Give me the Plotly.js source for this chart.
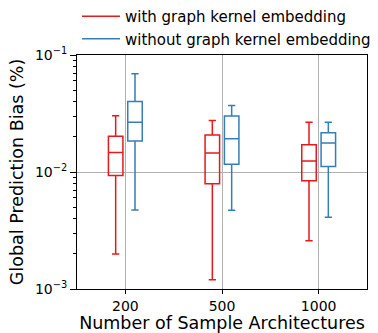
<!DOCTYPE html>
<html><head><meta charset="utf-8">
<script src="https://cdn.plot.ly/plotly-3.0.1.min.js"></script>
<style>html,body{margin:0;padding:0;background:#fff}</style>
</head><body>
<div id="chart" style="width:378px;height:333px"></div>
<script>
const categories = ['200', '500', '1000'];
const seriesNames = ['with graph kernel embedding', 'without graph kernel embedding'];
// with graph kernel embedding
const withLower = [0.00199, 0.00120, 0.00259];
const withQ1 = [0.00935, 0.00795, 0.00843];
const withMedian = [0.0147, 0.0145, 0.0124];
const withQ3 = [0.0202, 0.0207, 0.0171];
const withUpper = [0.0303, 0.0275, 0.0266];
// without graph kernel embedding
const withoutLower = [0.00474, 0.00471, 0.00411];
const withoutQ1 = [0.01845, 0.01167, 0.01117];
const withoutMedian = [0.0266, 0.0192, 0.0177];
const withoutQ3 = [0.0401, 0.0301, 0.0216];
const withoutUpper = [0.0693, 0.0371, 0.0266];
const yTickVals = [0.001, 0.01, 0.1];
const yTickText = ['10<sup>−3</sup>', '10<sup>−2</sup>', '10<sup>−1</sup>'];

const RED = '#e41a1c', BLUE = '#377eb8';
const FONT = 'DejaVu Sans, sans-serif';
const minorVals = [];
[0.001, 0.01].forEach(d => { for (let k = 2; k <= 9; k++) minorVals.push(d * k); });

function boxTrace(name, color, lo, q1, med, q3, hi) {
  return {
    type: 'box', name: name, x: categories,
    lowerfence: lo, q1: q1, median: med, q3: q3, upperfence: hi,
    line: {color: color, width: 1.5}, fillcolor: 'rgba(0,0,0,0)',
    whiskerwidth: 0.5, showlegend: false, hoverinfo: 'skip'
  };
}
function legendTrace(name, color) {
  return {type: 'scatter', mode: 'lines', name: name, x: [null], y: [null],
    line: {color: color, width: 1.5}, showlegend: true};
}

const data = [
  boxTrace(seriesNames[0], RED, withLower, withQ1, withMedian, withQ3, withUpper),
  boxTrace(seriesNames[1], BLUE, withoutLower, withoutQ1, withoutMedian, withoutQ3, withoutUpper),
  legendTrace(seriesNames[0], RED),
  legendTrace(seriesNames[1], BLUE)
];

const layout = {
  width: 378, height: 333,
  margin: {l: 77, r: 11, t: 54, b: 44},
  paper_bgcolor: '#fff', plot_bgcolor: '#fff',
  font: {family: FONT, color: '#000', size: 12},
  boxmode: 'group', boxgap: 0.6, boxgroupgap: 0.25,
  xaxis: {
    type: 'category', range: [-0.5, 2.5],
    showline: true, linecolor: '#000', linewidth: 1, mirror: true,
    ticks: 'outside', ticklen: 4, tickcolor: '#000',
    showgrid: true, gridcolor: '#b0b0b0', gridwidth: 1,
    tickfont: {size: 14},
    title: {text: 'Number of Sample Architectures', font: {size: 17.5}, standoff: 2},
    zeroline: false
  },
  yaxis: {
    type: 'log', range: [-3, -1],
    tickmode: 'array', tickvals: yTickVals, ticktext: yTickText,
    showline: true, linecolor: '#000', linewidth: 1, mirror: true,
    ticks: 'outside', ticklen: 6, tickcolor: '#000',
    showgrid: true, gridcolor: '#b0b0b0', gridwidth: 1,
    minor: {tickmode: 'array', tickvals: minorVals, ticks: 'outside', ticklen: 3, tickcolor: '#000', showgrid: false},
    tickfont: {size: 14},
    title: {text: 'Global Prediction Bias (%)', font: {size: 17.5}, standoff: 6},
    zeroline: false
  },
  legend: {
    x: 0.0, y: 1.0, xanchor: 'left', yanchor: 'top', xref: 'paper', yref: 'container',
    orientation: 'v', font: {size: 15}, bgcolor: 'rgba(0,0,0,0)', tracegroupgap: 0,
    itemwidth: 38
  },
  showlegend: true
};
Plotly.newPlot('chart', data, layout, {displayModeBar: false, staticPlot: true});
</script>
</body></html>
